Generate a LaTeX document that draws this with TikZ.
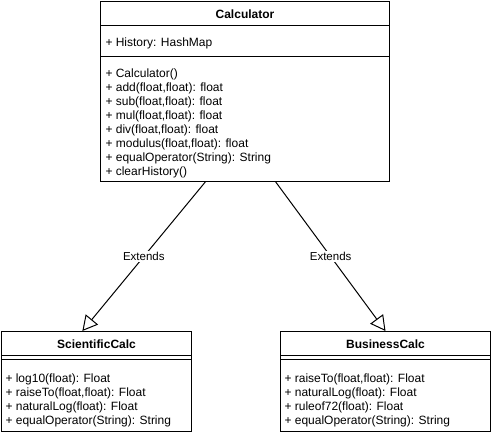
\documentclass[tikz,border=0pt]{standalone}
\usepackage{fontspec}
\setmainfont{Liberation Sans}
\usetikzlibrary{arrows.meta,calc,positioning}

\begin{document}
\begin{tikzpicture}[x=1pt, y=-1pt, line width=1pt,
  box/.style={draw, anchor=north west, inner sep=0pt},
  title/.style={font=\bfseries\fontsize{12}{14}\selectfont},
  members/.style={anchor=north west, align=left, inner sep=0pt, font=\fontsize{12}{14.1}\selectfont},
  extends/.style={-{Triangle[open,length=15pt,width=16pt]}},
  lbl/.style={fill=white, inner sep=1pt, font=\fontsize{11.5}{13}\selectfont}]
  %%%%% START %%%%%
  \useasboundingbox (0,0) rectangle (492,444);

  % Calculator
  \node[box, minimum width=289pt, minimum height=180pt] (calc) at (100,1) {};
  \node[title] (calcName) at ($(calc.north)+(0,13)$) {Calculator};
  \draw ($(calc.north west)+(0,25)$) -- ($(calc.north east)+(0,25)$);
  \node[members] (calcAttr) at ($(calc.north west)+(5,36)$) {+ History: HashMap};
  \draw ($(calc.north west)+(0,56)$) -- ($(calc.north east)+(0,56)$);
  \node[members] (calcOps) at ($(calc.north west)+(5,67)$) {+ Calculator()\\
    + add(float,float): float\\
    + sub(float,float): float\\
    + mul(float,float): float\\
    + div(float,float): float\\
    + modulus(float,float): float\\
    + equalOperator(String): String\\
    + clearHistory()};

  % ScientificCalc
  \node[box, minimum width=190pt, minimum height=100pt] (sci) at (1,331) {};
  \node[title] (sciName) at ($(sci.north)+(0,13)$) {ScientificCalc};
  \draw ($(sci.north west)+(0,24)$) -- ($(sci.north east)+(0,24)$);
  \draw ($(sci.north west)+(0,28)$) -- ($(sci.north east)+(0,28)$);
  \node[members] (sciOps) at ($(sci.north west)+(4,42)$) {+ log10(float): Float\\
    + raiseTo(float,float): Float\\
    + naturalLog(float): Float\\
    + equalOperator(String): String};

  % BusinessCalc
  \node[box, minimum width=210pt, minimum height=100pt] (bus) at (280,331) {};
  \node[title] (busName) at ($(bus.north)+(0,13)$) {BusinessCalc};
  \draw ($(bus.north west)+(0,24)$) -- ($(bus.north east)+(0,24)$);
  \draw ($(bus.north west)+(0,28)$) -- ($(bus.north east)+(0,28)$);
  \node[members] (busOps) at ($(bus.north west)+(4,42)$) {+ raiseTo(float,float): Float\\
    + naturalLog(float): Float\\
    + ruleof72(float): Float\\
    + equalOperator(String): String};

  % inheritance
  \draw[extends] ($(calc.south west)!0.363!(calc.south east)$) -- node[lbl] (extSci) {Extends} ($(sci.north west)!0.426!(sci.north east)$);
  \draw[extends] ($(calc.south west)!0.606!(calc.south east)$) -- node[lbl] (extBus) {Extends} (bus.north);
  %%%%% END %%%%%
\end{tikzpicture}
\end{document}
